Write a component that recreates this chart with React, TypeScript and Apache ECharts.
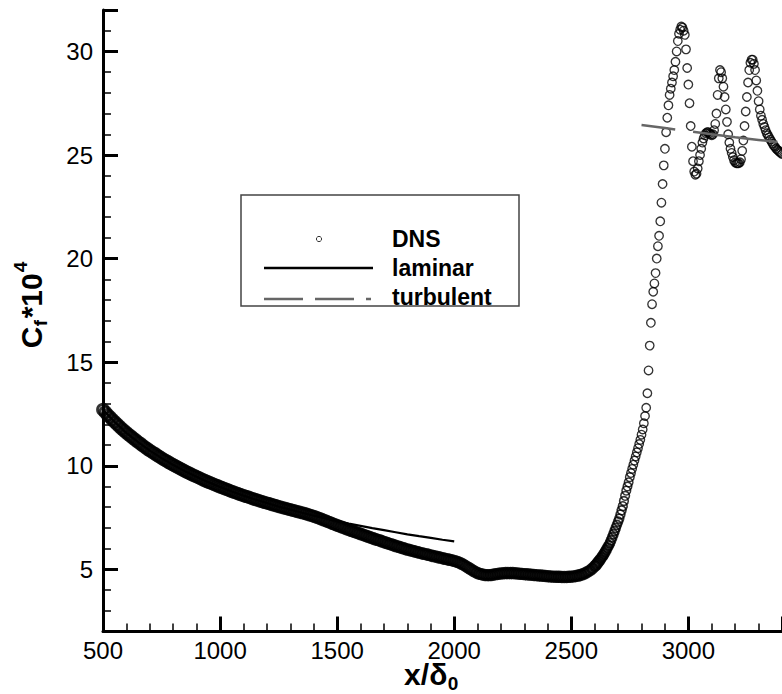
import React, { useEffect, useRef } from "react";
import * as echarts from "echarts";

// ---------- data ----------
// DNS skin friction, upstream part: x = 500, 510, ..., 2590
const dnsUpstreamStartX = 500;
const dnsUpstreamStepX = 10;
const dnsUpstreamY = [
  12.70, 12.58, 12.45, 12.34, 12.22, 12.11, 12.00, 11.90, 11.79, 11.69,
  11.59, 11.50, 11.41, 11.32, 11.23, 11.14, 11.06, 10.97, 10.89, 10.81,
  10.73, 10.66, 10.59, 10.51, 10.44, 10.37, 10.30, 10.24, 10.17, 10.10,
  10.04, 9.98, 9.92, 9.86, 9.80, 9.74, 9.68, 9.63, 9.57, 9.52,
  9.47, 9.42, 9.36, 9.31, 9.26, 9.21, 9.17, 9.12, 9.07, 9.03,
  8.98, 8.94, 8.89, 8.85, 8.81, 8.76, 8.72, 8.68, 8.64, 8.60,
  8.56, 8.52, 8.49, 8.45, 8.41, 8.37, 8.34, 8.30, 8.27, 8.23,
  8.20, 8.17, 8.13, 8.10, 8.07, 8.03, 8.00, 7.97, 7.94, 7.91,
  7.88, 7.85, 7.82, 7.79, 7.76, 7.73, 7.70, 7.67, 7.63, 7.60,
  7.56, 7.52, 7.48, 7.44, 7.39, 7.35, 7.30, 7.26, 7.21, 7.17,
  7.12, 7.08, 7.04, 7.00, 6.95, 6.91, 6.87, 6.83, 6.79, 6.75,
  6.71, 6.67, 6.63, 6.59, 6.55, 6.51, 6.47, 6.43, 6.40, 6.36,
  6.32, 6.28, 6.24, 6.21, 6.17, 6.13, 6.10, 6.06, 6.03, 5.99,
  5.96, 5.93, 5.90, 5.87, 5.84, 5.81, 5.78, 5.75, 5.73, 5.70,
  5.67, 5.64, 5.62, 5.59, 5.57, 5.54, 5.51, 5.49, 5.46, 5.44,
  5.41, 5.37, 5.33, 5.28, 5.22, 5.15, 5.08, 5.01, 4.94, 4.87,
  4.82, 4.78, 4.75, 4.73, 4.72, 4.72, 4.73, 4.75, 4.77, 4.79,
  4.80, 4.81, 4.82, 4.82, 4.82, 4.82, 4.81, 4.80, 4.79, 4.78,
  4.77, 4.76, 4.75, 4.74, 4.73, 4.72, 4.71, 4.70, 4.69, 4.68,
  4.67, 4.66, 4.65, 4.65, 4.64, 4.64, 4.63, 4.63, 4.63, 4.64,
  4.65, 4.66, 4.68, 4.70, 4.73, 4.77, 4.82, 4.88, 4.95, 5.04,
];

// DNS skin friction, transition part: x = 2600, 2605, ..., 3400
const dnsTransitionStartX = 2600;
const dnsTransitionStepX = 5;
const dnsTransitionY = [
  5.15, 5.20, 5.28, 5.35, 5.42, 5.50, 5.58, 5.66, 5.75, 5.85, 5.95, 6.05, 6.15, 6.27, 6.40, 6.55, 6.70, 6.85, 7.00, 7.15,
  7.30, 7.45, 7.65, 7.85, 8.05, 8.30, 8.55, 8.80, 9.00, 9.20, 9.45, 9.65, 9.85, 10.05, 10.25, 10.45, 10.65, 10.85, 11.05, 11.25,
  11.50, 11.75, 12.05, 12.40, 12.80, 13.50, 14.60, 15.80, 16.90, 17.80, 18.40, 18.80, 19.30, 20.00, 20.60, 21.10, 21.80, 22.70, 23.60, 24.50,
  25.30, 26.10, 26.80, 27.40, 27.90, 28.20, 28.50, 28.80, 29.10, 29.50, 30.00, 30.50, 30.85, 31.05, 31.20, 31.15, 31.00, 30.80, 30.10, 29.20,
  28.40, 27.50, 26.40, 25.40, 24.70, 24.20, 24.05, 24.10, 24.35, 24.70, 25.00, 25.30, 25.60, 25.80, 25.95, 26.05, 26.10, 26.10, 26.05, 26.00,
  25.95, 26.00, 26.20, 26.50, 27.00, 27.90, 28.70, 29.10, 29.00, 28.70, 28.30, 27.80, 27.20, 26.60, 26.00, 25.60, 25.30, 25.10, 24.90, 24.75,
  24.65, 24.60, 24.60, 24.60, 24.65, 24.80, 25.20, 25.70, 26.40, 27.10, 27.80, 28.50, 29.10, 29.45, 29.60, 29.60, 29.40, 29.10, 28.60, 28.10,
  27.60, 27.20, 26.90, 26.70, 26.50, 26.35, 26.20, 26.05, 25.95, 25.85, 25.75, 25.65, 25.55, 25.45, 25.40, 25.30, 25.25, 25.20, 25.15, 25.10,
  25.05,
];

// laminar correlation
const laminarX = [
  500, 550, 600, 650, 700, 750, 800, 850, 900, 950, 1000, 1050, 1100, 1150, 1200, 1250,
  1300, 1350, 1400, 1450, 1500, 1550, 1600, 1650, 1700, 1750, 1800, 1850, 1900, 1950, 2000,
];
const laminarY = [
  12.70, 12.11, 11.59, 11.14, 10.73, 10.37, 10.04, 9.74, 9.47, 9.21, 8.98, 8.76, 8.56, 8.37, 8.20, 8.03,
  7.88, 7.73, 7.59, 7.46, 7.33, 7.21, 7.10, 6.99, 6.89, 6.79, 6.69, 6.60, 6.52, 6.43, 6.35,
];

// turbulent correlation
const turbulentX = [2800, 2900, 3000, 3100, 3200, 3300, 3400];
const turbulentY = [26.45, 26.30, 26.15, 26.00, 25.86, 25.73, 25.60];

// axes
const xMin = 500;
const xMax = 3400;
const xInterval = 500;
const yMin = 2;
const yMax = 32;
const yInterval = 5;

const legendNames = ["DNS", "laminar", "turbulent"];

// ---------- helpers ----------
const FONT = '"Liberation Sans", Arial, Helvetica, sans-serif';

function textWidth(text: string, font: string): number {
  const c = document.createElement("canvas").getContext("2d");
  if (!c) return text.length * 10;
  c.font = font;
  return c.measureText(text).width;
}

// linear blend used only for marker styling
function blend(x: number, x0: number, x1: number, a: number, b: number): number {
  if (x <= x0) return a;
  if (x >= x1) return b;
  return a + ((x - x0) / (x1 - x0)) * (b - a);
}

export default function App() {
  const ref = useRef<HTMLDivElement>(null);

  useEffect(() => {
    if (!ref.current) return;
    const chart = echarts.init(ref.current, null, { renderer: "svg" });

    // the DNS points crowd into a solid band upstream; mimic that density with stroke/size
    const dnsStroke = (x: number) => blend(x, 2550, 2760, 2.8, 1.35);
    const dnsSize = (x: number) => (x < 2600 ? blend(x, 600, 2000, 11, 9.5) : blend(x, 2600, 2760, 9.5, 8.5));
    const dnsData: any[] = [];
    const pushDns = (x: number, y: number) =>
      dnsData.push({ value: [x, y], symbolSize: dnsSize(x), itemStyle: { borderWidth: dnsStroke(x) } });
    dnsUpstreamY.forEach((y, i) => pushDns(dnsUpstreamStartX + i * dnsUpstreamStepX, y));
    dnsTransitionY.forEach((y, i) => pushDns(dnsTransitionStartX + i * dnsTransitionStepX, y));
    const laminarData = laminarX.map((x, i) => [x, laminarY[i]]);
    const turbulentData = turbulentX.map((x, i) => [x, turbulentY[i]]);

    // axis titles
    const tSize = 30;
    const sSize = 19;
    const tFont = `bold ${tSize}px ${FONT}`;
    const sFont = `bold ${sSize}px ${FONT}`;
    const wC = textWidth("C", tFont);
    const wf = textWidth("f", sFont);
    const w10 = textWidth("*10", tFont);
    const w4 = textWidth("4", sFont);
    const yTitleLen = wC + wf + w10 + w4 + 3;
    const txt = (text: string, x: number, y: number, size: number, align = "left") => ({
      type: "text",
      x,
      y,
      style: {
        text,
        fontFamily: FONT,
        fontWeight: "bold",
        fontSize: size,
        fill: "#000",
        align,
        verticalAlign: "middle",
      },
    });

    const wX = textWidth("x/\u03b4", tFont);
    const w0 = textWidth("0", sFont);
    const xTitleCenter = 431;
    const xTitleLeft = xTitleCenter - (wX + w0) / 2;

    const legendFont = 23;
    const legendText = (text: string, y: number) => ({
      type: "text",
      x: 392,
      y,
      style: {
        text,
        fontFamily: FONT,
        fontWeight: "bold",
        fontSize: legendFont,
        fill: "#000",
        align: "left",
        verticalAlign: "middle",
      },
      z: 11,
    });

    const tickLabel = {
      color: "#000",
      fontSize: 24,
      fontFamily: FONT,
      formatter: (v: number) => String(v),
    };

    const option: any = {
      animation: false,
      backgroundColor: "#fff",
      grid: { left: 103, right: -1.5, top: 10, bottom: 62.5, containLabel: false },
      xAxis: {
        type: "value",
        min: xMin,
        max: xMax,
        interval: xInterval,
        axisLine: { show: true, onZero: false, lineStyle: { color: "#000", width: 3 } },
        axisTick: { show: true, inside: true, length: 15, lineStyle: { color: "#000", width: 3 } },
        minorTick: { show: true, splitNumber: 5, length: 8, lineStyle: { color: "#000", width: 1.5 } },
        axisLabel: { ...tickLabel, margin: 7, showMaxLabel: false },
        splitLine: { show: false },
        minorSplitLine: { show: false },
      },
      yAxis: {
        type: "value",
        min: yMin,
        max: yMax,
        minInterval: yInterval,
        maxInterval: yInterval,
        axisLine: { show: true, onZero: false, lineStyle: { color: "#000", width: 3 } },
        axisTick: { show: true, inside: true, length: 15, lineStyle: { color: "#000", width: 3 } },
        minorTick: { show: true, splitNumber: 5, length: 8, lineStyle: { color: "#000", width: 1.5 } },
        axisLabel: { ...tickLabel, margin: 10, showMinLabel: false, showMaxLabel: false },
        splitLine: { show: false },
        minorSplitLine: { show: false },
      },
      series: [
        {
          name: legendNames[0],
          type: "scatter",
          data: dnsData,
          symbol: "circle",
          symbolSize: 8.5,
          clip: false,
          silent: true,
          itemStyle: { color: "rgba(0,0,0,0)", borderColor: "#000", borderWidth: 1.35 },
          z: 2,
        },
        {
          name: legendNames[1],
          type: "line",
          data: laminarData,
          showSymbol: false,
          symbol: "none",
          silent: true,
          lineStyle: { color: "#000", width: 2.2 },
          z: 3,
        },
        {
          name: legendNames[2],
          type: "line",
          data: turbulentData,
          showSymbol: false,
          symbol: "none",
          silent: true,
          lineStyle: { color: "#666", width: 2.5, type: [85, 18], dashOffset: 51 },
          z: 4,
        },
      ],
      graphic: [
        // y-axis title, rotated to read bottom-to-top
        {
          type: "group",
          x: 31,
          y: 305 + yTitleLen / 2,
          rotation: Math.PI / 2,
          children: [
            txt("C", 0, 0, tSize),
            txt("f", wC + 0.5, 9, sSize),
            txt("*10", wC + wf + 2, 0, tSize),
            txt("4", wC + wf + 2 + w10 + 1, -11, sSize),
          ],
        },
        // x-axis title
        txt("x/\u03b4", xTitleLeft, 674, tSize),
        txt("0", xTitleLeft + wX + 0.5, 683, sSize),
        // legend box
        {
          type: "rect",
          shape: { x: 241, y: 195, width: 278, height: 111 },
          style: { fill: "#fff", stroke: "#444", lineWidth: 1.5 },
          z: 10,
        },
        {
          type: "circle",
          shape: { cx: 319, cy: 239, r: 2.6 },
          style: { fill: "none", stroke: "#333", lineWidth: 1 },
          z: 11,
        },
        {
          type: "line",
          shape: { x1: 264, y1: 268, x2: 373, y2: 268 },
          style: { stroke: "#000", lineWidth: 2.6 },
          z: 11,
        },
        {
          type: "line",
          shape: { x1: 264, y1: 299, x2: 371, y2: 299 },
          style: { stroke: "#666", lineWidth: 2.6, lineDash: [39, 12] },
          z: 11,
        },
        legendText(legendNames[0], 239),
        legendText(legendNames[1], 268),
        legendText(legendNames[2], 297),
      ],
    };

    chart.setOption(option);
    return () => chart.dispose();
  }, []);

  return (
    <div
      ref={ref}
      style={{ position: "fixed", left: 0, top: 0, width: 782, height: 694, background: "#fff" }}
    />
  );
}
